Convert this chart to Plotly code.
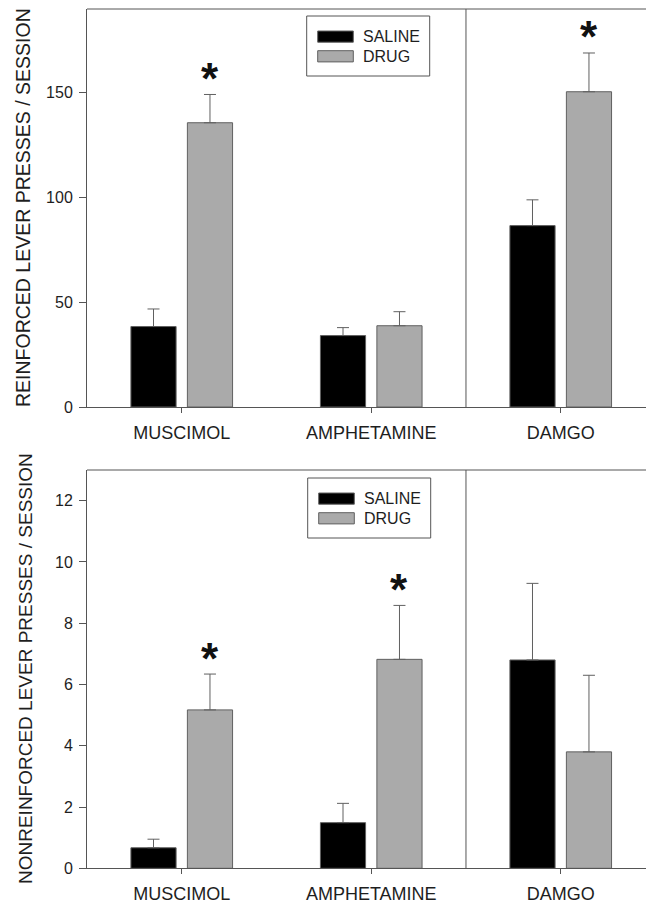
import plotly.graph_objects as go

# ---------------- data ----------------
categories = ["MUSCIMOL", "AMPHETAMINE", "DAMGO"]
series_names = ["SALINE", "DRUG"]

reinf_saline = [38.4, 34.1, 86.6]
reinf_saline_err = [8.4, 3.8, 12.3]
reinf_drug = [135.7, 38.8, 150.5]
reinf_drug_err = [13.5, 6.7, 18.5]
reinf_sig = [True, False, True]          # asterisk over DRUG bar

nonreinf_saline = [0.67, 1.49, 6.80]
nonreinf_saline_err = [0.28, 0.63, 2.50]
nonreinf_drug = [5.17, 6.82, 3.80]
nonreinf_drug_err = [1.17, 1.76, 2.50]
nonreinf_sig = [True, True, False]

reinf_ticks = [0, 50, 100, 150]
nonreinf_ticks = [0, 2, 4, 6, 8, 10, 12]

reinf_title = "REINFORCED LEVER PRESSES / SESSION"
nonreinf_title = "NONREINFORCED LEVER PRESSES / SESSION"

# ---------------- style ----------------
W, H, L = 646, 906, 87
FONT = "Liberation Sans, Arial, sans-serif"
TXT = "#1e1e1e"
AX = "#555555"
BLACK = "#000000"
GREY = "#aaaaaa"
EDGE = "#606060"
xpos = list(range(len(categories)))


def px(x):
    return (x - L) / (W - L)


def py(y):
    return 1 - y / H


fig = go.Figure()


def add_bars(sal, sal_err, drg, drg_err, xa, ya):
    for name, vals, errs, col in [(series_names[0], sal, sal_err, BLACK),
                                  (series_names[1], drg, drg_err, GREY)]:
        fig.add_trace(go.Bar(
            x=xpos, y=vals, name=name, xaxis=xa, yaxis=ya,
            marker=dict(color=col, line=dict(color=EDGE, width=1)),
            error_y=dict(type="data", array=errs, arrayminus=[0] * len(errs),
                         symmetric=False, color=EDGE, thickness=1, width=6),
            showlegend=False, hoverinfo="x+y",
        ))


add_bars(reinf_saline, reinf_saline_err, reinf_drug, reinf_drug_err, "x", "y")
add_bars(nonreinf_saline, nonreinf_saline_err, nonreinf_drug, nonreinf_drug_err, "x2", "y2")

xaxis_common = dict(
    range=[-0.5, 2.45], tickvals=xpos, ticktext=categories,
    showline=True, linecolor=AX, linewidth=1, ticks="outside", ticklen=5,
    tickcolor=AX, showgrid=False, zeroline=False,
    tickfont=dict(size=18, color=TXT, family=FONT), ticklabelstandoff=4,
    automargin=False, fixedrange=True,
)
yaxis_common = dict(
    showline=True, linecolor=AX, linewidth=1, ticks="outside", ticklen=7,
    tickcolor=AX, showgrid=False, zeroline=False,
    tickfont=dict(size=16, color=TXT, family=FONT), ticklabelstandoff=3,
    automargin=False, fixedrange=True,
)

top_dom = [py(407), py(9)]
bot_dom = [py(868.3), py(470)]

fig.update_layout(
    width=W, height=H,
    margin=dict(l=L, r=0, t=0, b=0),
    paper_bgcolor="white", plot_bgcolor="white",
    barmode="group", bargap=0.404, bargroupgap=0.2,
    font=dict(family=FONT, color=TXT),
    showlegend=False,
    xaxis=dict(xaxis_common, anchor="y"),
    yaxis=dict(yaxis_common, domain=top_dom, range=[0, 190], tickvals=reinf_ticks, anchor="x"),
    xaxis2=dict(xaxis_common, anchor="y2"),
    yaxis2=dict(yaxis_common, domain=bot_dom, range=[0, 13], tickvals=nonreinf_ticks, anchor="x2"),
)

shapes = []
annotations = []

# frame top lines and divider between AMPHETAMINE and DAMGO
for xa, ya in [("x", "y"), ("x2", "y2")]:
    shapes.append(dict(type="line", xref=f"{xa} domain", yref=f"{ya} domain",
                       x0=0, x1=1, y0=1, y1=1, line=dict(color=AX, width=1)))
    shapes.append(dict(type="line", xref=xa, yref=f"{ya} domain",
                       x0=1.5, x1=1.5, y0=0, y1=1, line=dict(color=AX, width=1)))


# manual legends (wide swatches as in the reference)
def add_legend(top, left):
    shapes.append(dict(type="rect", xref="paper", yref="paper",
                       x0=px(left), x1=px(left + 123), y0=py(top), y1=py(top + 60),
                       line=dict(color=AX, width=1), fillcolor="white", layer="above"))
    for i, (name, col) in enumerate(zip(series_names, [BLACK, GREY])):
        y0 = top + 15 + i * 19.7
        shapes.append(dict(type="rect", xref="paper", yref="paper",
                           x0=px(left + 11), x1=px(left + 46.6),
                           y0=py(y0), y1=py(y0 + 11.2),
                           line=dict(color=EDGE, width=1), fillcolor=col, layer="above"))
        annotations.append(dict(text=name, xref="paper", yref="paper",
                                x=px(left + 54.5), y=py(y0 + 5.6),
                                xanchor="left", yanchor="middle", showarrow=False,
                                font=dict(size=16, color=TXT, family=FONT)))


add_legend(16, 306.7)
add_legend(478, 307.7)

# significance asterisks
for xa, ya, vals, errs, sig in [("x", "y", reinf_drug, reinf_drug_err, reinf_sig),
                                ("x2", "y2", nonreinf_drug, nonreinf_drug_err, nonreinf_sig)]:
    for i, s in enumerate(sig):
        if s:
            annotations.append(dict(text="<b>*</b>", xref=xa, yref=ya,
                                    x=xpos[i] + 0.149, y=vals[i] + errs[i],
                                    xanchor="center", yanchor="middle", yshift=16,
                                    showarrow=False,
                                    font=dict(size=44, color="#111111", family=FONT)))

# y-axis titles
annotations.append(dict(text=reinf_title, xref="paper", yref="paper", x=px(23), y=py(208),
                        textangle=-90, showarrow=False, xanchor="center", yanchor="middle",
                        font=dict(size=19.5, color=TXT, family=FONT)))
annotations.append(dict(text=nonreinf_title, xref="paper", yref="paper", x=px(25), y=py(669),
                        textangle=-90, showarrow=False, xanchor="center", yanchor="middle",
                        font=dict(size=19, color=TXT, family=FONT)))

fig.update_layout(shapes=shapes, annotations=annotations)
fig.write_html("out.html", config={"displayModeBar": False},
               post_script="document.body.style.margin='0';document.body.style.overflow='hidden';")
